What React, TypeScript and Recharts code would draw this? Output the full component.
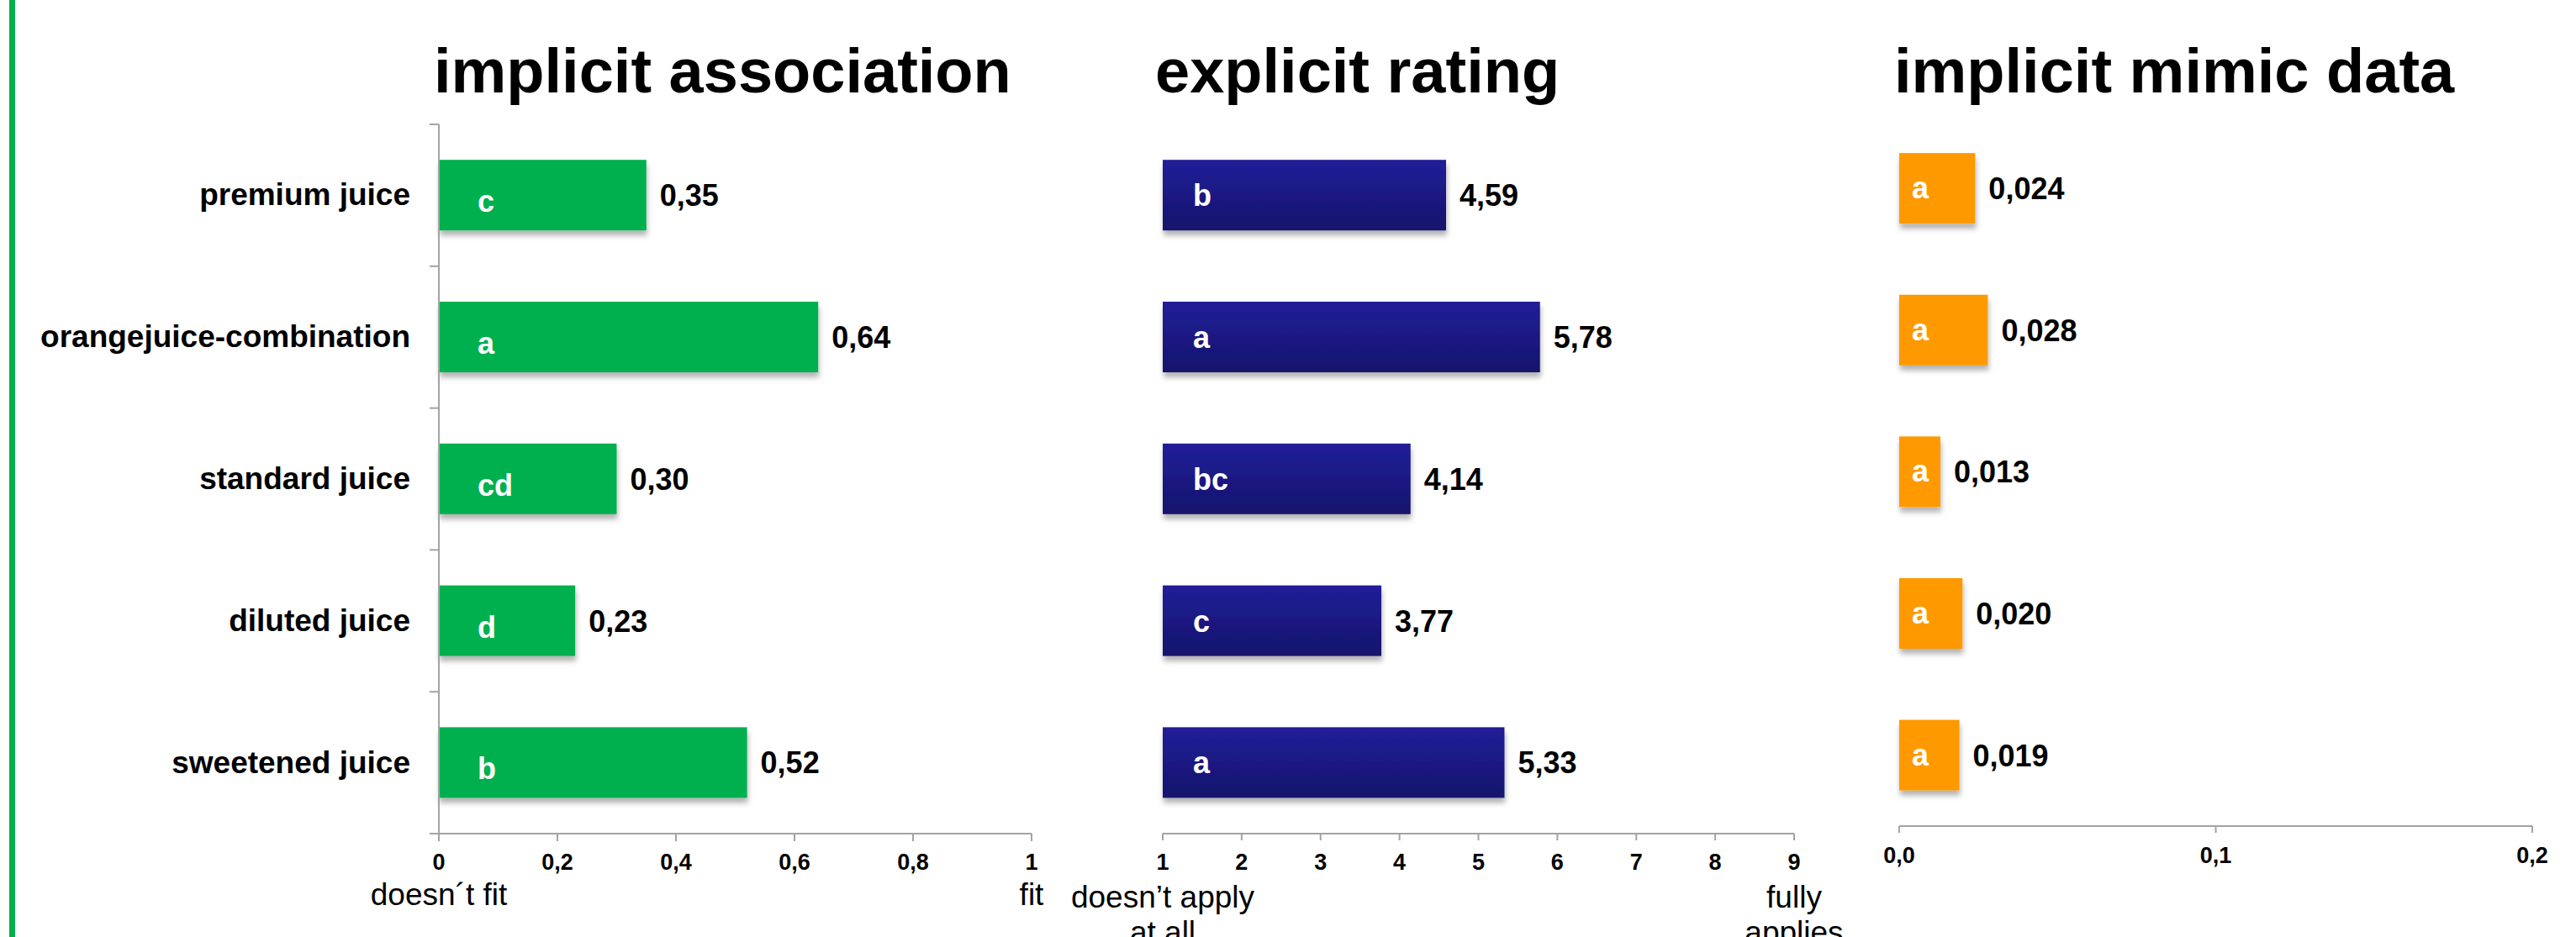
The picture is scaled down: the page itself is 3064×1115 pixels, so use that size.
import React from 'react';
import { BarChart, Bar, XAxis, YAxis, LabelList } from 'recharts';

const categories = ['premium juice', 'orangejuice-combination', 'standard juice', 'diluted juice', 'sweetened juice'];

const associationValues = [0.35, 0.64, 0.30, 0.23, 0.52];
const associationLetters = ['c', 'a', 'cd', 'd', 'b'];
const ratingValues = [4.59, 5.78, 4.14, 3.77, 5.33];
const ratingLetters = ['b', 'a', 'bc', 'c', 'a'];
const mimicValues = [0.024, 0.028, 0.013, 0.020, 0.019];
const mimicLetters = ['a', 'a', 'a', 'a', 'a'];

const assocTicks = [0, 0.2, 0.4, 0.6, 0.8, 1];
const assocTickLabels = ['0', '0,2', '0,4', '0,6', '0,8', '1'];
const assocEndLabels = [['doesn´t fit'], [], [], [], [], ['fit']];

const ratingTicks = [1, 2, 3, 4, 5, 6, 7, 8, 9];
const ratingTickLabels = ['1', '2', '3', '4', '5', '6', '7', '8', '9'];
const ratingEndLabels = [['doesn’t apply', 'at all'], [], [], [], [], [], [], [], ['fully', 'applies']];

const mimicTicks = [0, 0.1, 0.2];
const mimicTickLabels = ['0,0', '0,1', '0,2'];

const titles = ['implicit association', 'explicit rating', 'implicit mimic data'];

const FONT = '"Liberation Sans", Arial, Helvetica, sans-serif';
const AXIS_GREY = '#a3a3a3';

const assocData = categories.map((c, i) => ({ category: c, value: associationValues[i], letter: associationLetters[i] }));
const ratingData = categories.map((c, i) => ({ category: c, value: ratingValues[i], letter: ratingLetters[i] }));
const mimicData = categories.map((c, i) => ({ category: c, value: mimicValues[i], letter: mimicLetters[i] }));

const fmt = (v: number, d: number) => v.toFixed(d).replace('.', ',');

const makeShadowBar = (filterId: string) => (props: any) => {
  const { x, y, width, height, fill } = props;
  if (width == null || height == null) return null;
  return <rect x={x} y={y} width={Math.max(0, width)} height={height} fill={fill} filter={`url(#${filterId})`} />;
};

const makeLetter = (dx: number, dy: number) => (props: any) => {
  const { x, y, height, value } = props;
  return (
    <text x={x + dx} y={y + height / 2 + dy} fill="#ffffff" fontFamily={FONT} fontWeight="bold" fontSize={36}>
      {value}
    </text>
  );
};

const makeValue = (digits: number) => (props: any) => {
  const { x, y, width, height, value } = props;
  return (
    <text x={x + width + 16} y={y + height / 2 + 13} fill="#000000" fontFamily={FONT} fontWeight="bold" fontSize={36}>
      {fmt(value, digits)}
    </text>
  );
};

const makeXTick = (ticks: number[], labels: string[], endLabels: string[][] | null, labelDy: number, endDy: number) => (props: any) => {
  const { x, y, payload } = props;
  const idx = ticks.indexOf(payload.value);
  const extra = endLabels && idx >= 0 ? endLabels[idx] : [];
  return (
    <g>
      <text x={x} y={y + labelDy} textAnchor="middle" fill="#000" fontFamily={FONT} fontWeight="bold" fontSize={27}>
        {idx >= 0 ? labels[idx] : ''}
      </text>
      {extra.map((line, k) => (
        <text key={k} x={x} y={y + endDy + k * 42} textAnchor="middle" fill="#000" fontFamily={FONT} fontSize={37}>
          {line}
        </text>
      ))}
    </g>
  );
};

const CategoryTick = (props: any) => {
  const { x, y, payload, index } = props;
  const half = payload && payload.offset ? payload.offset : 84.4;
  const isLast = index === categories.length - 1;
  return (
    <g>
      <line x1={x - 11} x2={x} y1={y - half} y2={y - half} stroke={AXIS_GREY} strokeWidth={2} />
      {isLast && <line x1={x - 11} x2={x} y1={y + half} y2={y + half} stroke={AXIS_GREY} strokeWidth={2} />}
      <text x={x - 34} y={y + 12} textAnchor="end" fill="#000" fontFamily={FONT} fontWeight="bold" fontSize={37}>
        {payload.value}
      </text>
    </g>
  );
};

const ShadowDefs = ({ id }: { id: string }) => (
  <defs>
    <filter id={id} x="-10%" y="-20%" width="130%" height="160%">
      <feDropShadow dx="1" dy="6" stdDeviation="3" floodColor="#000000" floodOpacity="0.3" />
    </filter>
    <linearGradient id="blueGrad" x1="0" y1="0" x2="0" y2="1">
      <stop offset="0%" stopColor="#211f99" />
      <stop offset="100%" stopColor="#15136c" />
    </linearGradient>
  </defs>
);

export default function App() {
  return (
    <div style={{ position: 'absolute', left: 0, top: 0, width: 3064, height: 1115, background: '#fff', overflow: 'hidden' }}>
      <svg width={3064} height={1115} style={{ position: 'absolute', left: 0, top: 0 }}>
        <rect x={11} y={0} width={7} height={1115} fill="#00b050" />
        <text x={516} y={110} fontFamily={FONT} fontWeight="bold" fontSize={74} fill="#000">{titles[0]}</text>
        <text x={1374} y={110} fontFamily={FONT} fontWeight="bold" fontSize={74} fill="#000">{titles[1]}</text>
        <text x={2253} y={110} fontFamily={FONT} fontWeight="bold" fontSize={74} fill="#000">{titles[2]}</text>
      </svg>

      <div style={{ position: 'absolute', left: 0, top: 0 }}>
        <BarChart width={1300} height={1115} data={assocData} layout="vertical"
          margin={{ top: 148, right: 73, bottom: 0, left: 0 }} barCategoryGap="25%">
          <ShadowDefs id="shadowA" />
          <XAxis type="number" domain={[0, 1]} ticks={assocTicks} interval={0} height={123}
            axisLine={{ stroke: AXIS_GREY, strokeWidth: 2 }} tickLine={{ stroke: AXIS_GREY, strokeWidth: 2 }}
            tickSize={9} tickMargin={0} tick={makeXTick(assocTicks, assocTickLabels, assocEndLabels, 34, 76)} />
          <YAxis type="category" dataKey="category" width={522} tickSize={0} tickMargin={0} tickLine={false}
            axisLine={{ stroke: AXIS_GREY, strokeWidth: 2 }} tick={<CategoryTick />} interval={0} />
          <Bar dataKey="value" fill="#00b050" isAnimationActive={false} shape={makeShadowBar('shadowA')}>
            <LabelList dataKey="letter" content={makeLetter(46, 20)} />
            <LabelList dataKey="value" content={makeValue(2)} />
          </Bar>
        </BarChart>
      </div>

      <div style={{ position: 'absolute', left: 1250, top: 0 }}>
        <BarChart width={1000} height={1115} data={ratingData} layout="vertical"
          margin={{ top: 148, right: 116, bottom: 0, left: 133 }} barCategoryGap="25%">
          <ShadowDefs id="shadowB" />
          <XAxis type="number" domain={[1, 9]} ticks={ratingTicks} interval={0} height={123}
            axisLine={{ stroke: AXIS_GREY, strokeWidth: 2 }} tickLine={{ stroke: AXIS_GREY, strokeWidth: 2 }}
            tickSize={8} tickMargin={0} tick={makeXTick(ratingTicks, ratingTickLabels, ratingEndLabels, 35, 80)} />
          <YAxis type="category" dataKey="category" hide width={0} />
          <Bar dataKey="value" fill="url(#blueGrad)" isAnimationActive={false} shape={makeShadowBar('shadowB')}>
            <LabelList dataKey="letter" content={makeLetter(36, 13)} />
            <LabelList dataKey="value" content={makeValue(2)} />
          </Bar>
        </BarChart>
      </div>

      <div style={{ position: 'absolute', left: 2200, top: 0 }}>
        <BarChart width={864} height={1115} data={mimicData} layout="vertical"
          margin={{ top: 140, right: 52, bottom: 0, left: 59 }} barCategoryGap="25%">
          <ShadowDefs id="shadowC" />
          <XAxis type="number" domain={[0, 0.2]} ticks={mimicTicks} interval={0} height={132}
            axisLine={{ stroke: AXIS_GREY, strokeWidth: 2 }} tickLine={{ stroke: AXIS_GREY, strokeWidth: 2 }}
            tickSize={8} tickMargin={0} tick={makeXTick(mimicTicks, mimicTickLabels, null, 36, 0)} />
          <YAxis type="category" dataKey="category" hide width={0} />
          <Bar dataKey="value" fill="#ff9900" isAnimationActive={false} shape={makeShadowBar('shadowC')}>
            <LabelList dataKey="letter" content={makeLetter(15, 12)} />
            <LabelList dataKey="value" content={makeValue(3)} />
          </Bar>
        </BarChart>
      </div>
    </div>
  );
}
